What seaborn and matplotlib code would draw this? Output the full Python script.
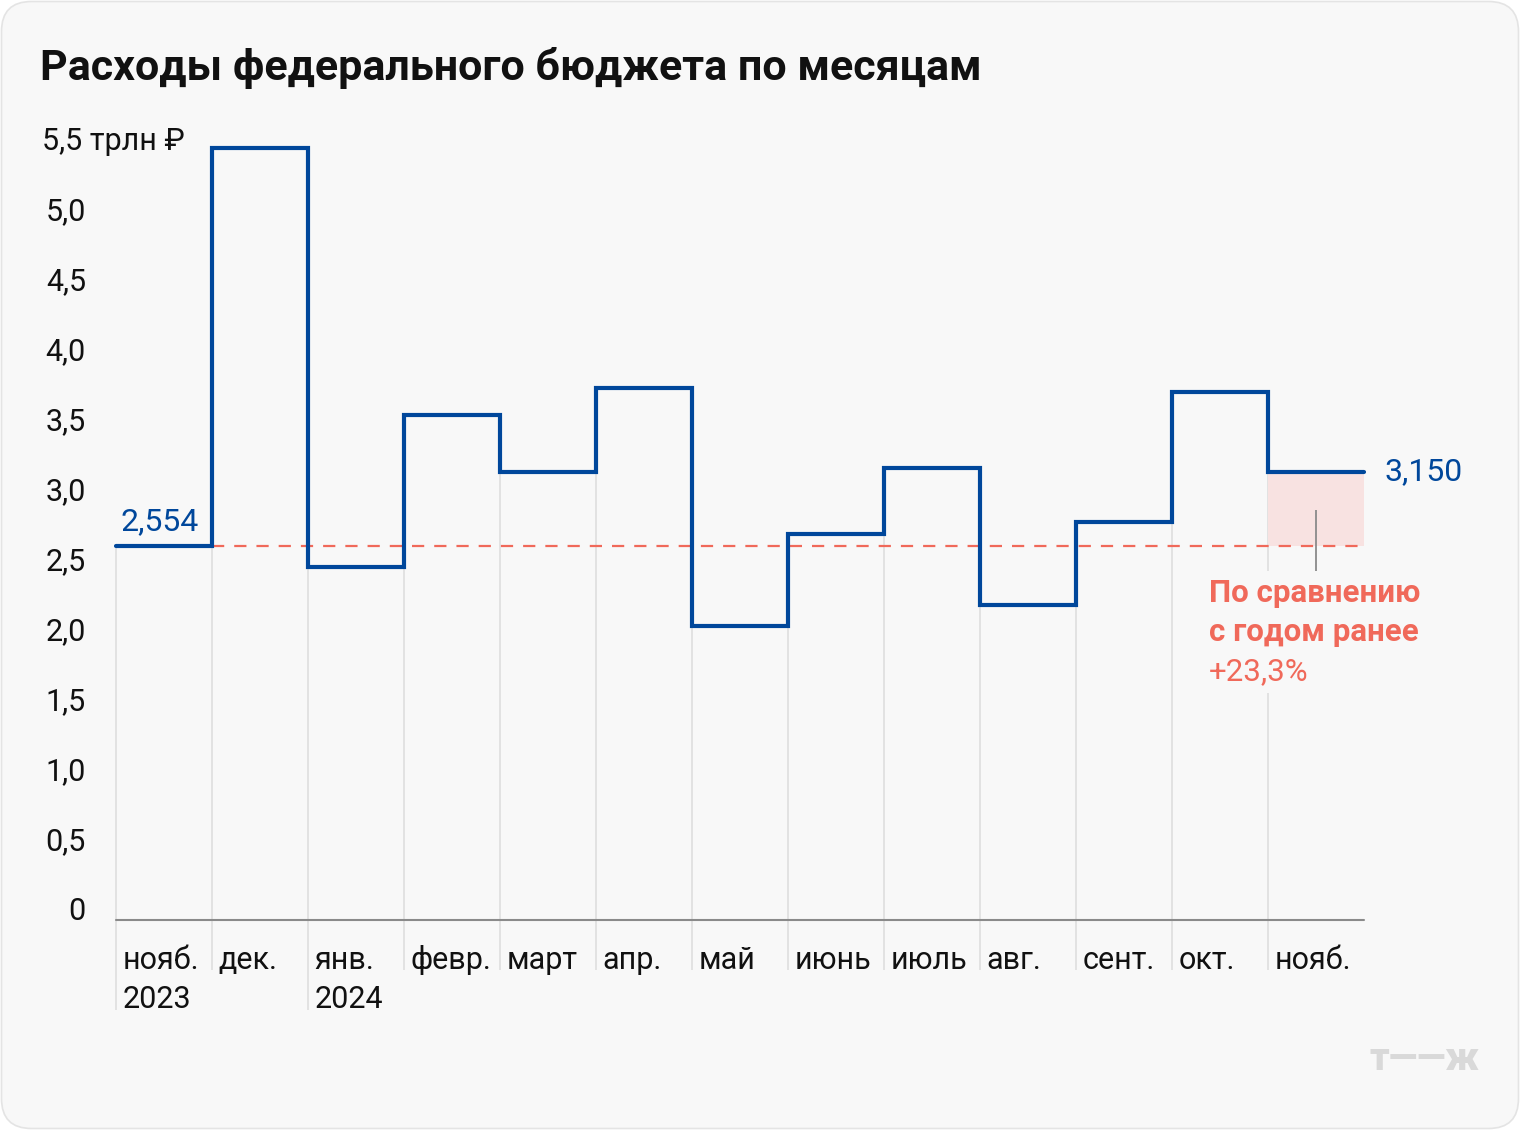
import numpy as np
import pandas as pd
import matplotlib.pyplot as plt
import matplotlib.transforms as mtransforms
from matplotlib.patches import FancyBboxPatch
import seaborn as sns

# Monthly federal budget spending, trillion rubles
months = ["нояб.", "дек.", "янв.", "февр.", "март", "апр.", "май",
          "июнь", "июль", "авг.", "сент.", "окт.", "нояб."]
years = ["2023", "", "2024", "", "", "", "", "", "", "", "", "", ""]
spending = [2.674, 5.514, 2.524, 3.607, 3.202, 3.800, 2.102,
            2.757, 3.229, 2.252, 2.843, 3.771, 3.202]
ytick_values = [0, 0.5, 1.0, 1.5, 2.0, 2.5, 3.0, 3.5, 4.0, 4.5, 5.0, 5.5]
ytick_labels = ["0", "0,5", "1,0", "1,5", "2,0", "2,5", "3,0", "3,5",
                "4,0", "4,5", "5,0", "5,5 трлн ₽"]
first_label = "2,554"
last_label = "3,150"
note_lines = ["По сравнению", "с годом ранее"]
change_label = "+23,3%"

BLUE = "#00479b"
RED = "#f0695a"
PINK = "#f8e2e1"
GRID = "#e2e2e2"
BG = "#f8f8f8"

sns.set_style("white")
plt.rcParams["font.family"] = ["Roboto", "DejaVu Sans"]

fig = plt.figure(figsize=(15.2, 11.3), dpi=100)
fig.patch.set_facecolor("white")
bg = FancyBboxPatch((1.5, 1.5), 1517, 1127, boxstyle="round,pad=0,rounding_size=30",
                    transform=None, facecolor=BG, edgecolor="#e4e4e4", linewidth=1.2,
                    zorder=-10)
fig.patches.append(bg)

# axes: x 116..1364 px, y value 0 at 920 px, 5.5 at 150 px
ax = fig.add_axes([116 / 1520, (1130 - 920) / 1130, 1248 / 1520, 770 / 1130])
ax.set_zorder(2)

n = len(spending)
below_one = -50 / 140
below_two = -90 / 140

# vertical separators
for i in range(n):
    top = spending[0] if i == 0 else min(spending[i - 1], spending[i])
    bottom = below_two if years[i] else below_one
    ax.vlines(i, bottom, top, color=GRID, lw=1.4, zorder=1, clip_on=False)

# baseline
ax.plot([0, n], [0, 0], color="#8a8a8a", lw=1.5, zorder=2, clip_on=False)

# year-over-year shading
ax.fill_between([n - 1, n], spending[0], spending[-1], color=PINK, lw=0, zorder=1)
ax.hlines(spending[0], 1, n, color=RED, lw=1.6, linestyles=(0, (5.5, 4.5)), zorder=2)

# step line
df = pd.DataFrame({"pos": np.arange(n + 1), "value": spending + [spending[-1]]})
sns.lineplot(data=df, x="pos", y="value", drawstyle="steps-post", color=BLUE,
             linewidth=3, ax=ax, zorder=5, solid_joinstyle="miter", clip_on=False)
ax.set_xlim(0, 13)
ax.set_ylim(0, 5.5)
ax.set_axis_off()

# y tick labels
tr = mtransforms.blended_transform_factory(fig.transFigure, ax.transData)
for v, lab in zip(ytick_values, ytick_labels):
    if v == ytick_values[-1]:
        ax.text(42 / 1520, v, lab, transform=tr, ha="left", va="baseline",
                fontsize=22, color="#111111")
    else:
        ax.text(86 / 1520, v, lab, transform=tr, ha="right", va="baseline",
                fontsize=22, color="#111111")

# month labels
for i, (m, y) in enumerate(zip(months, years)):
    ax.text(i + 6.5 / 96, -49 / 140, m, ha="left", va="baseline",
            fontsize=22, color="#111111", clip_on=False)
    if y:
        ax.text(i + 6.5 / 96, -88 / 140, y, ha="left", va="baseline",
                fontsize=22, color="#111111", clip_on=False)

# value labels
ax.annotate(first_label, xy=(0, spending[0]), xytext=(3.6, 11.3),
            textcoords="offset points", ha="left", va="baseline",
            fontsize=23, color=BLUE)
ax.annotate(last_label, xy=(n, spending[-1]), xytext=(15, -6),
            textcoords="offset points", ha="left", va="baseline",
            fontsize=23, color=BLUE)

# comparison note
ax.vlines(n - 0.5, (920 - 572) / 140, (920 - 510) / 140, color="#8a8a8a", lw=1.3, zorder=3)
note_x = (1209 - 116) / 96
for k, line in enumerate(note_lines):
    ax.text(note_x, (920 - 601.7 - 39 * k) / 140, line, ha="left", va="baseline",
            fontsize=22.5, fontweight="bold", color=RED, zorder=4,
            bbox=dict(facecolor=BG, edgecolor="none", pad=5))
ax.text(note_x, (920 - 680) / 140, change_label, ha="left", va="baseline",
        fontsize=22.5, color=RED, zorder=4,
        bbox=dict(facecolor=BG, edgecolor="none", pad=5))

# title and logo
fig.text(40 / 1520, 1 - 80 / 1130, "Расходы федерального бюджета по месяцам",
         ha="left", va="baseline", fontsize=31, fontweight="bold", color="#111111")
fig.text(1479 / 1520, 1 - 1070 / 1130, "т——ж", ha="right", va="baseline",
         fontsize=27, fontweight="black", color="#d9d9d9")

fig.savefig("out.png", dpi=100, facecolor=fig.get_facecolor())
